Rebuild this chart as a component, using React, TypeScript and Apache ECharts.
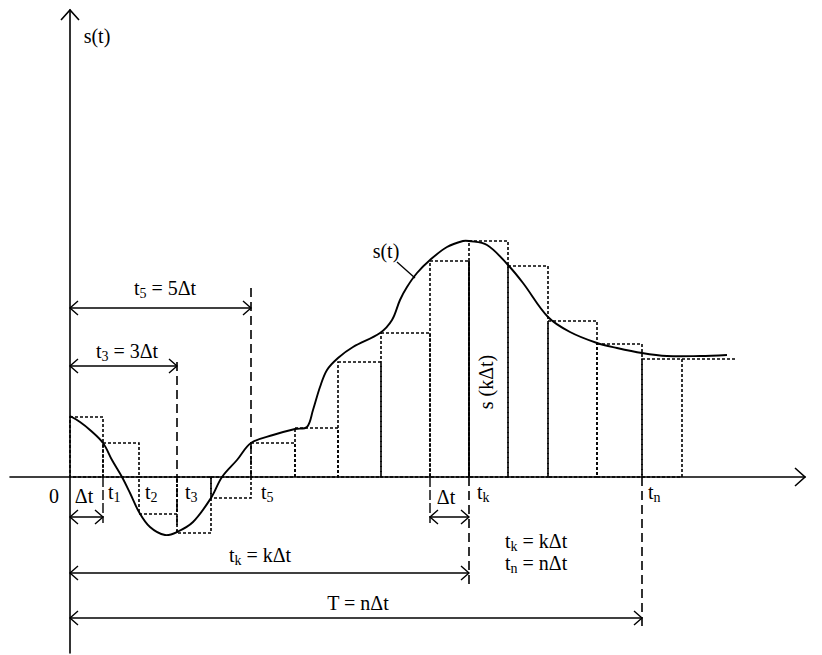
import React, { useEffect, useRef } from "react";
import * as echarts from "echarts";

// sample instants (time units, origin at 0) and held sample values s(kΔt)
const sampleTimes = [0, 33, 69, 107, 141, 181, 225, 268, 311, 360, 399, 438, 478, 527, 572, 612];
const sampleLevels = [60, 34, -37, -56, -21, 34, 49, 115, 144, 216, 236, 211, 156, 133, 118];
const holdEnd = 666;

// continuous signal s(t)
const curveT = [0, 10, 20, 33, 42, 52, 60, 69, 80, 95, 107, 123, 141, 152, 167, 181, 203, 225, 237, 243, 250, 257, 268, 283, 310, 322, 330, 337, 347, 360, 377, 393, 399, 417, 438, 453, 478, 500, 527, 547, 572, 597, 630, 657];
const curveS = [61, 55, 47, 34, 17, 0, -16, -35, -50, -58, -55, -45, -21, 0, 17, 34, 42, 48, 50, 67, 90, 107, 119, 130, 144, 157, 177, 190, 204, 217, 230, 236, 236, 232, 212, 194, 160, 145, 134, 129, 124, 121, 121, 122];

// tick labels below the time axis: sample index and subscript
const tickIndex = [1, 2, 3, 5, 10, 14];
const tickSub = ["1", "2", "3", "5", "k", "n"];

const FAMILY = "Liberation Serif";
const makeRich = () => ({
  m: { fontFamily: FAMILY, fontSize: 20, lineHeight: 24 },
  s: { fontFamily: FAMILY, fontSize: 14, lineHeight: 14, verticalAlign: "bottom" },
});

const X_MIN = -60, X_MAX = 735, Y_MIN = -176, Y_MAX = 467;

export default function App() {
  const ref = useRef<HTMLDivElement>(null);
  useEffect(() => {
    const chart = echarts.init(ref.current!, null, { renderer: "svg" });

    const bars = sampleLevels.map((v, i) => [sampleTimes[i], sampleTimes[i + 1], v]);
    const curve = curveT.map((t, i) => [t, curveS[i]]);
    const t = sampleTimes;

    const option: any = {
      animation: false,
      grid: { left: 10, top: 10, width: 795, height: 643 },
      xAxis: {
        type: "value", min: X_MIN, max: X_MAX,
        axisLine: { show: true, onZero: true, lineStyle: { color: "#000", width: 1.6 } },
        axisTick: { show: false }, axisLabel: { show: false }, splitLine: { show: false },
      },
      yAxis: {
        type: "value", min: Y_MIN, max: Y_MAX,
        axisLine: { show: true, onZero: true, lineStyle: { color: "#000", width: 1.6 } },
        axisTick: { show: false }, axisLabel: { show: false }, splitLine: { show: false },
      },
      series: [
        {
          type: "custom",
          encode: { x: [0, 1], y: 2 },
          data: bars,
          renderItem: (params: any, api: any) => {
            const a = api.coord([api.value(0), 0]);
            const b = api.coord([api.value(1), api.value(2)]);
            return {
              type: "rect",
              shape: { x: Math.min(a[0], b[0]), y: Math.min(a[1], b[1]), width: Math.abs(b[0] - a[0]), height: Math.abs(b[1] - a[1]) },
              style: { fill: "none", stroke: "#000", lineWidth: 1.6, lineDash: [3, 2] },
            };
          },
        },
        {
          type: "custom",
          encode: { x: 0, y: 1 },
          data: curve,
          renderItem: (params: any, api: any) => {
            if (params.dataIndex !== 0) return null;
            const pts = curve.map((d) => api.coord(d));
            return {
              type: "polyline",
              shape: { points: pts, smooth: 0.35 },
              style: { stroke: "#000", fill: "none", lineWidth: 1.9 },
            };
          },
        },
        {
          type: "custom",
          data: [[0, 0]],
          renderItem: (params: any, api: any) => {
            const c = (x: number, y: number) => api.coord([x, y]);
            const children: any[] = [];
            const line = (x1: number, y1: number, x2: number, y2: number, dash?: number[], w = 1.4) => {
              const p = c(x1, y1), q = c(x2, y2);
              const style: any = { stroke: "#000", lineWidth: w };
              if (dash) style.lineDash = dash;
              children.push({ type: "line", shape: { x1: p[0], y1: p[1], x2: q[0], y2: q[1] }, style });
            };
            const head = (x: number, y: number, dir: string, L = 8, H = 7, w = 1.4) => {
              const p = c(x, y);
              let pts: number[][];
              if (dir === "r") pts = [[p[0] - L, p[1] - H], p, [p[0] - L, p[1] + H]];
              else if (dir === "l") pts = [[p[0] + L, p[1] - H], p, [p[0] + L, p[1] + H]];
              else pts = [[p[0] - H, p[1] + L], p, [p[0] + H, p[1] + L]];
              children.push({ type: "polyline", shape: { points: pts }, style: { stroke: "#000", fill: "none", lineWidth: w } });
            };
            const dim = (x1: number, x2: number, y: number) => {
              line(x1, y, x2, y, undefined, 1.4);
              head(x1, y, "l");
              head(x2, y, "r");
            };

            head(X_MAX, 0, "r", 10, 9, 1.6);
            head(0, Y_MAX, "u", 10, 9, 1.6);
            line(t[15], sampleLevels[14], holdEnd, sampleLevels[14], [3, 2], 1.6);
            line(t[3], 115, t[3], sampleLevels[3], [9, 5], 1.6);
            line(t[5], 189, t[5], 0, [9, 5], 1.6);
            line(t[10], 0, t[10], sampleLevels[9], undefined, 1.8);
            line(t[10], 0, t[10], -108, [9, 5], 1.6);
            line(t[14], 0, t[14], -151, [9, 5], 1.6);
            line(t[1], 0, t[1], -46, [10, 3], 1.4);
            line(t[9], 0, t[9], -46, [10, 3], 1.4);
            dim(0, t[5], 169);
            dim(0, t[3], 111);
            dim(0, t[1], -40);
            dim(t[9], t[10], -40);
            dim(0, t[10], -96);
            dim(0, t[14], -141);
            line(327, 215, 345, 199, undefined, 1.4);
            return { type: "group", children };
          },
        },
        {
          type: "custom",
          data: [[0, 0]],
          renderItem: (params: any, api: any) => {
            const children: any[] = [];
            const text = (x: number, y: number, s: string, align = "center", rotation = 0) => {
              const p = api.coord([x, y]);
              const el: any = {
                type: "text", x: p[0], y: p[1],
                style: { text: s, rich: makeRich(), fill: "#000", align, verticalAlign: "middle" },
              };
              if (rotation) el.rotation = rotation;
              children.push(el);
            };
            text(-16, -19, "{m|0}");
            const offs = [5, 6, 8, 10, 8, 6];
            tickIndex.forEach((idx, k) => {
              text(t[idx] + offs[k], -15, `{m|t}{s|${tickSub[k]}}`, "left");
            });
            text(14, -19, "{m|Δt}");
            text(376, -20, "{m|Δt}");
            text(95, 189, "{m|t}{s|5}{m| = 5Δt}");
            text(57, 126, "{m|t}{s|3}{m| = 3Δt}");
            text(190, -78, "{m|t}{s|k}{m| = kΔt}");
            text(288, -126, "{m|T = nΔt}");
            text(435, -64, "{m|t}{s|k}{m| = kΔt}", "left");
            text(435, -86, "{m|t}{s|n}{m| = nΔt}", "left");
            text(27, 441, "{m|s(t)}");
            text(316, 226, "{m|s(t)}");
            text(416, 95, "{m|s (kΔt)}", "center", Math.PI / 2);
            return { type: "group", children };
          },
        },
      ],
    };
    chart.setOption(option);
    return () => chart.dispose();
  }, []);
  return (
    <div
      ref={ref}
      style={{ position: "fixed", left: 0, top: 0, width: 822, height: 655, background: "#fff", fontFamily: "'Liberation Serif', serif" }}
    />
  );
}
